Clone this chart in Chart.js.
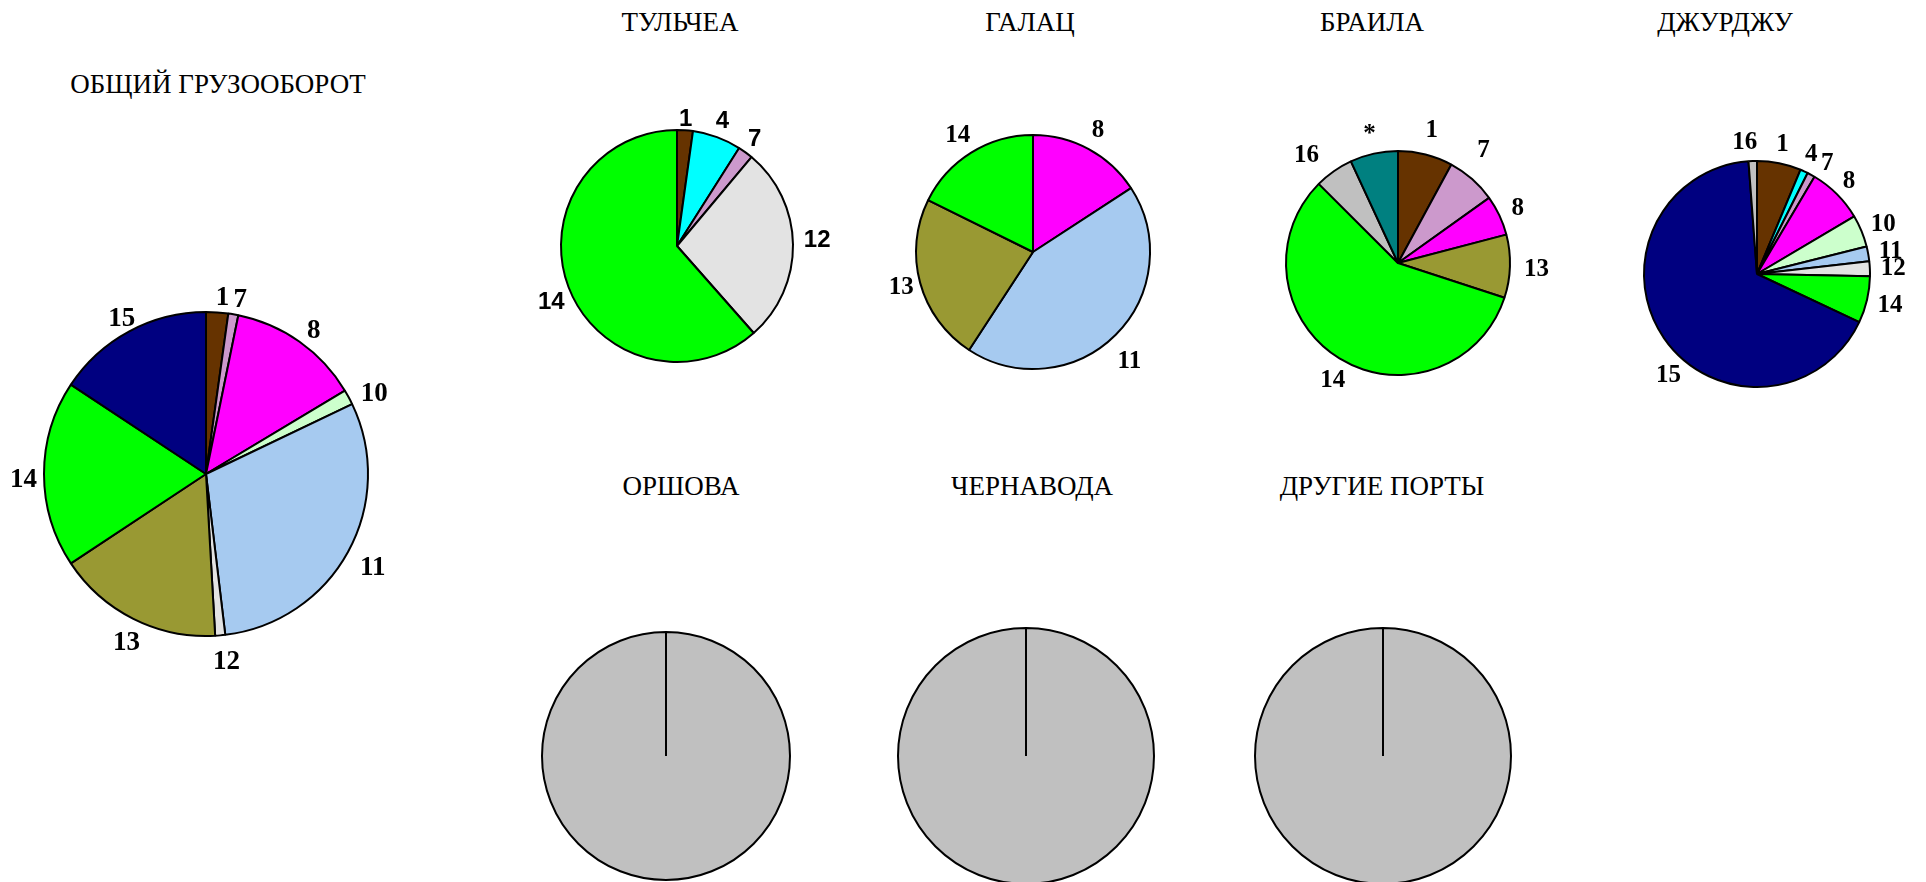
<!DOCTYPE html>
<html>
<head>
<meta charset="utf-8">
<script src="https://cdn.jsdelivr.net/npm/chart.js@4.4.1/dist/chart.umd.min.js"></script>
<style>
  body { margin: 0; background: #fff; }
  #wrap { position: relative; width: 1926px; height: 882px; overflow: hidden; }
  canvas { position: absolute; }
  .title {
    position: absolute;
    transform: translate(-50%, -50%) scaleY(1.05);
    font-family: "Liberation Serif", "Times New Roman", serif;
    font-size: 27px;
    white-space: nowrap;
    color: #000;
  }
</style>
</head>
<body>
<div id="wrap"></div>
<script>
// cargo categories and their shares, %
const totalCats = ['1', '7', '8', '10', '11', '12', '13', '14', '15'];
const totalVals = [2.2, 1.0, 13.2, 1.5, 30.2, 1.0, 16.6, 18.6, 15.7];

const tulceaCats = ['1', '4', '7', '12', '14'];
const tulceaVals = [2.2, 6.8, 2.1, 27.4, 61.5];

const galatiCats = ['8', '11', '13', '14'];
const galatiVals = [15.8, 43.4, 23.1, 17.7];

const brailaCats = ['1', '7', '8', '13', '14', '16', '*'];
const brailaVals = [7.9, 7.2, 5.8, 9.1, 57.4, 5.6, 6.9];

const giurgiuCats = ['1', '4', '7', '8', '10', '11', '12', '14', '15', '16'];
const giurgiuVals = [6.3, 1.1, 1.1, 8.0, 4.6, 2.1, 2.1, 6.7, 66.8, 1.2];

const orsovaCats = ['16'];
const orsovaVals = [100];
const cernavodaCats = ['16'];
const cernavodaVals = [100];
const otherCats = ['16'];
const otherVals = [100];

const colors = {
    '1': '#663300', '4': '#00FFFF', '7': '#CC99CC', '8': '#FF00FF',
    '10': '#CCFFCC', '11': '#A6CAF0', '12': '#E3E3E3', '13': '#999933',
    '14': '#00FF00', '15': '#000080', '16': '#C0C0C0', '*': '#008080'
};

const serif = '"Liberation Serif", "Times New Roman", serif';
const sans = '"Liberation Sans", Arial, sans-serif';

// labels outside each slice; nudge = degrees, push = extra px outward
const outsideLabels = {
    id: 'outsideLabels',
    afterDatasetsDraw(chart, args, opts) {
        if (!opts.show) return;
        const ctx = chart.ctx;
        const meta = chart.getDatasetMeta(0);
        const nudge = opts.nudge || {};
        const push = opts.push || {};
        ctx.save();
        ctx.font = 'bold ' + opts.size + 'px ' + opts.family;
        ctx.fillStyle = '#000';
        ctx.textAlign = 'center';
        ctx.textBaseline = 'middle';
        meta.data.forEach((arc, i) => {
            const p = arc.getProps(['x', 'y', 'startAngle', 'endAngle', 'outerRadius'], true);
            const text = chart.data.labels[i];
            const mid = (p.startAngle + p.endAngle) / 2 + (nudge[text] || 0) * Math.PI / 180;
            const dx = Math.cos(mid), dy = Math.sin(mid);
            const w = ctx.measureText(text).width;
            const h = opts.size * 0.7;
            const r = p.outerRadius + opts.gap + (push[text] || 0);
            const x = p.x + (opts.ox || 0) + dx * r + dx * w / 2;
            const y = p.y + (opts.oy || 0) + dy * r + dy * h / 2;
            ctx.fillText(text, x, y + 1);
        });
        ctx.restore();
    }
};

const charts = [
    { title: 'ОБЩИЙ ГРУЗООБОРОТ', tx: 218, ty: 84, cx: 206, cy: 474, r: 162, cats: totalCats, vals: totalVals,
      lbl: { family: serif, size: 27, gap: 11, ox: 4, oy: 5 } },
    { title: 'ТУЛЬЧЕА', tx: 680, ty: 22, cx: 677, cy: 246, r: 116, cats: tulceaCats, vals: tulceaVals,
      lbl: { family: sans, size: 24, gap: 9, push: { '1': -5, '12': 2 }, nudge: { '14': -4, '12': -2 } } },
    { title: 'ГАЛАЦ', tx: 1030, ty: 22, cx: 1033, cy: 252, r: 117, cats: galatiCats, vals: galatiVals,
      lbl: { family: serif, size: 25, gap: 13, push: { '13': -6, '11': 5 }, nudge: { '11': 4 } } },
    { title: 'БРАИЛА', tx: 1372, ty: 22, cx: 1398, cy: 263, r: 112, cats: brailaCats, vals: brailaVals,
      lbl: { family: serif, size: 25, gap: 14, oy: 2, push: { '7': 10, '16': 7, '1': 5, '14': -4 }, nudge: { '7': -4.5, '16': -4, '14': -2.5 } } },
    { title: 'ДЖУРДЖУ', tx: 1725, ty: 22, cx: 1757, cy: 274, r: 113, cats: giurgiuCats, vals: giurgiuVals,
      lbl: { family: serif, size: 25, gap: 11, nudge: { '15': -15, '7': 4, '16': -3 } } },
    { title: 'ОРШОВА', tx: 681, ty: 486, cx: 666, cy: 756, r: 124, cats: orsovaCats, vals: orsovaVals, lbl: null },
    { title: 'ЧЕРНАВОДА', tx: 1032, ty: 486, cx: 1026, cy: 756, r: 128, cats: cernavodaCats, vals: cernavodaVals, lbl: null },
    { title: 'ДРУГИЕ ПОРТЫ', tx: 1382, ty: 486, cx: 1383, cy: 756, r: 128, cats: otherCats, vals: otherVals, lbl: null }
];

const wrap = document.getElementById('wrap');
const pad = 60;

charts.forEach(c => {
    const t = document.createElement('div');
    t.className = 'title';
    t.textContent = c.title;
    t.style.left = c.tx + 'px';
    t.style.top = c.ty + 'px';
    wrap.appendChild(t);

    const size = 2 * (c.r + pad) + 4;
    const cv = document.createElement('canvas');
    cv.width = size;
    cv.height = size;
    cv.style.width = size + 'px';
    cv.style.height = size + 'px';
    cv.style.left = (c.cx - size / 2) + 'px';
    cv.style.top = (c.cy - size / 2) + 'px';
    wrap.appendChild(cv);

    new Chart(cv, {
        type: 'pie',
        data: {
            labels: c.cats,
            datasets: [{
                data: c.vals,
                backgroundColor: c.cats.map(k => colors[k]),
                borderColor: '#000',
                borderWidth: 2,
                hoverOffset: 0
            }]
        },
        options: {
            responsive: false,
            animation: false,
            events: [],
            radius: c.r,
            layout: { padding: pad },
            plugins: {
                legend: { display: false },
                tooltip: { enabled: false },
                outsideLabels: Object.assign({ show: !!c.lbl }, c.lbl || {})
            }
        },
        plugins: [outsideLabels]
    });
});
</script>
</body>
</html>
